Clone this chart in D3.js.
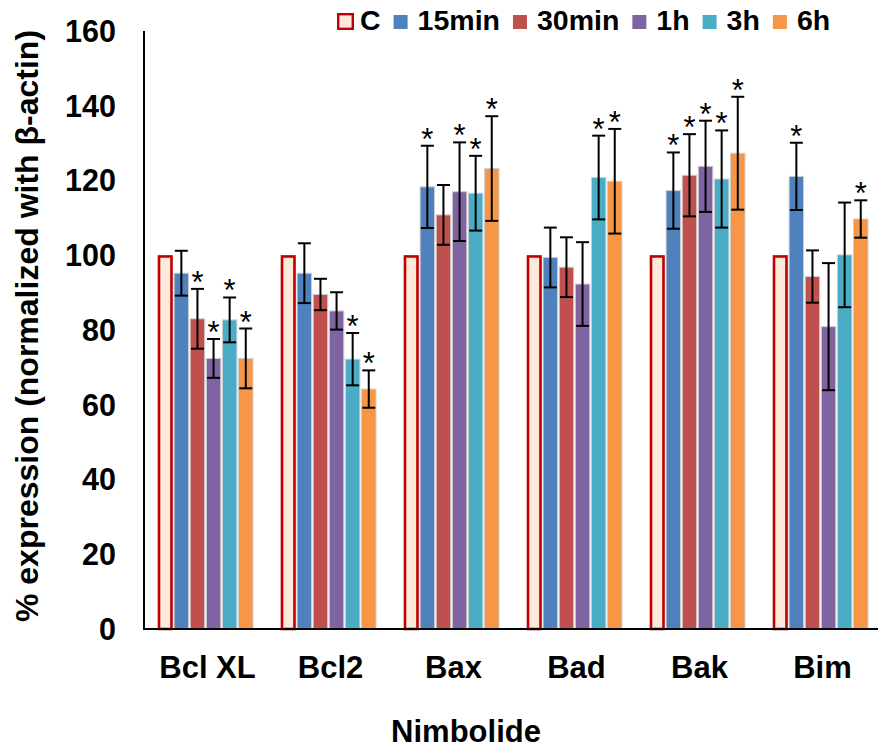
<!DOCTYPE html>
<html>
<head>
<meta charset="utf-8">
<script src="https://cdn.jsdelivr.net/npm/d3@7"></script>
<style>
  html, body { margin: 0; padding: 0; background: #fff; }
  svg { display: block; font-family: "Liberation Sans", Arial, sans-serif; }
</style>
</head>
<body>
<svg id="chart" width="878" height="751"></svg>
<script>
// Protein groups along the x axis
const categories = ["Bcl XL", "Bcl2", "Bax", "Bad", "Bak", "Bim"];
// Treatment series (control + time points)
const seriesNames = ["C", "15min", "30min", "1h", "3h", "6h"];

// Mean % expression per group, one array per series
const valC   = [100, 100, 100, 100, 100, 100];
const val15  = [95.2, 95.2, 118.3, 99.4, 117.3, 121.1];
const val30  = [83.0, 89.5, 110.8, 96.8, 121.4, 94.3];
const val1h  = [72.4, 85.1, 117.0, 92.3, 123.8, 80.9];
const val3h  = [82.7, 72.2, 116.6, 120.8, 120.4, 100.1];
const val6h  = [72.4, 64.2, 123.2, 119.8, 127.3, 109.7];

// Error bar half-widths (control has none)
const errC   = [0, 0, 0, 0, 0, 0];
const err15  = [6.0, 8.0, 11.0, 8.0, 10.2, 9.0];
const err30  = [8.0, 4.2, 8.0, 8.0, 11.0, 7.0];
const err1h  = [5.2, 5.0, 13.2, 11.2, 12.2, 17.0];
const err3h  = [6.0, 7.0, 10.0, 11.2, 13.0, 14.0];
const err6h  = [8.0, 5.0, 14.0, 14.0, 15.1, 5.0];

// Significance markers (1 = asterisk)
const sigC   = [0, 0, 0, 0, 0, 0];
const sig15  = [0, 0, 1, 0, 1, 1];
const sig30  = [1, 0, 0, 0, 1, 0];
const sig1h  = [1, 0, 1, 0, 1, 0];
const sig3h  = [1, 1, 1, 1, 1, 0];
const sig6h  = [1, 1, 1, 1, 1, 1];

// Y axis ticks
const yTicks = [0, 20, 40, 60, 80, 100, 120, 140, 160];

const values = [valC, val15, val30, val1h, val3h, val6h];
const errors = [errC, err15, err30, err1h, err3h, err6h];
const sigs   = [sigC, sig15, sig30, sig1h, sig3h, sig6h];
const fills  = ["#FDEADA", "#4F81BD", "#C0504D", "#8064A2", "#4BACC6", "#F79646"];

const rows = [];
categories.forEach((cat, ci) => {
  seriesNames.forEach((s, si) => {
    rows.push({ cat, s, si, v: values[si][ci], e: errors[si][ci], sig: sigs[si][ci] });
  });
});

const svg = d3.select("#chart");
const fontOf = (px, w = "bold") => `${w} ${px}px 'Liberation Sans', Arial, sans-serif`;

const x0 = d3.scaleBand().domain(categories).range([144, 882])
  .paddingInner(0.2276).paddingOuter(0.1138);
const x1 = d3.scaleBand().domain(seriesNames).range([0, x0.bandwidth()]).paddingInner(0.1);
const y = d3.scaleLinear().domain([0, 160]).range([629, 31]);

// Bars
const bars = svg.append("g");
bars.selectAll("rect").data(rows).join("rect")
  .attr("x", d => x0(d.cat) + x1(d.s) + (d.si === 0 ? 1 : 0))
  .attr("y", d => y(d.v) + (d.si === 0 ? 1.2 : 0))
  .attr("width", d => x1.bandwidth() - (d.si === 0 ? 2 : 0))
  .attr("height", d => y(0) - y(d.v) - (d.si === 0 ? 1.2 : 0))
  .attr("fill", d => fills[d.si])
  .attr("stroke", d => d.si === 0 ? "#C00000" : "#d0d0d0")
  .attr("stroke-width", d => d.si === 0 ? 2.6 : 1);

// Error bars
const eb = svg.append("g").attr("stroke", "#000").attr("stroke-width", 2);
const withErr = rows.filter(d => d.e > 0);
const cx = d => x0(d.cat) + x1(d.s) + x1.bandwidth() / 2;
const capW = 13;
eb.selectAll("line.v").data(withErr).join("line").attr("class", "v")
  .attr("x1", cx).attr("x2", cx)
  .attr("y1", d => y(d.v + d.e)).attr("y2", d => y(d.v - d.e));
eb.selectAll("line.t").data(withErr).join("line").attr("class", "t")
  .attr("x1", d => cx(d) - capW / 2).attr("x2", d => cx(d) + capW / 2)
  .attr("y1", d => y(d.v + d.e)).attr("y2", d => y(d.v + d.e));
eb.selectAll("line.b").data(withErr).join("line").attr("class", "b")
  .attr("x1", d => cx(d) - capW / 2).attr("x2", d => cx(d) + capW / 2)
  .attr("y1", d => y(d.v - d.e)).attr("y2", d => y(d.v - d.e));

// Asterisks
svg.append("g").selectAll("text").data(rows.filter(d => d.sig)).join("text")
  .attr("x", cx)
  .attr("y", d => y(d.v + d.e) + 4)
  .attr("text-anchor", "middle")
  .style("font", fontOf(31, "normal"))
  .attr("fill", "#000")
  .text("*");

// Axes lines
svg.append("line").attr("x1", 144).attr("x2", 144).attr("y1", y(160)).attr("y2", y(0))
  .attr("stroke", "#000").attr("stroke-width", 2);
svg.append("line").attr("x1", 143).attr("x2", 882).attr("y1", y(0)).attr("y2", y(0))
  .attr("stroke", "#000").attr("stroke-width", 2);

// Y tick labels
svg.append("g").selectAll("text").data(yTicks).join("text")
  .attr("x", 116).attr("y", d => y(d)).attr("dy", "0.36em")
  .attr("text-anchor", "end").style("font", fontOf(30.5)).text(d => d);

// Category labels
svg.append("g").selectAll("text").data(categories).join("text")
  .attr("x", d => x0(d) + x0.bandwidth() / 2 + 2).attr("y", 678)
  .attr("text-anchor", "middle").style("font", fontOf(31)).text(d => d);

// Axis titles
svg.append("text").attr("x", 466).attr("y", 742).attr("text-anchor", "middle")
  .style("font", fontOf(31)).text("Nimbolide");
svg.append("text").attr("transform", "translate(38,326) rotate(-90)")
  .attr("text-anchor", "middle").style("font", fontOf(32))
  .text("% expression (normalized with β-actin)");

// Legend, laid out left to right
const lg = svg.append("g");
let lx = 337;
seriesNames.forEach((name, i) => {
  const isC = i === 0;
  const sw = isC ? 17 : 14;
  lg.append("rect")
    .attr("x", lx + (isC ? 1.2 : 0)).attr("y", (isC ? 13 : 15) + (isC ? 1.2 : 0))
    .attr("width", sw - (isC ? 2.4 : 0)).attr("height", sw - (isC ? 2.4 : 0))
    .attr("fill", fills[i])
    .attr("stroke", isC ? "#C00000" : "none")
    .attr("stroke-width", 2.4);
  lx += sw + (isC ? 6 : 10);
  const t = lg.append("text").attr("x", lx).attr("y", 30).style("font", fontOf(28.5)).text(name);
  lx += t.node().getComputedTextLength() + 13;
});
</script>
</body>
</html>
